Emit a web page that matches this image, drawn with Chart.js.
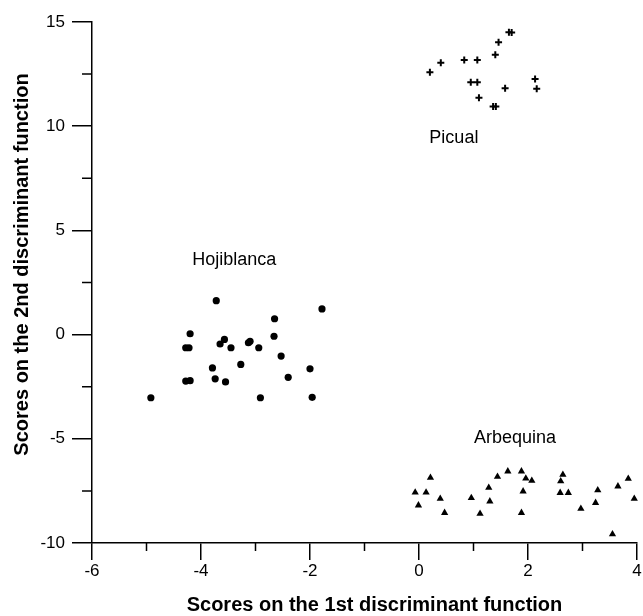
<!DOCTYPE html>
<html>
<head>
<meta charset="utf-8">
<script src="https://cdn.jsdelivr.net/npm/chart.js@4"></script>
<style>
  body { margin: 0; background: #fff; }
</style>
</head>
<body>
<canvas id="chart" width="643" height="616"></canvas>
<script>
// scores, one x/y pair of arrays per cultivar
const picualX = [0.20, 0.40, 0.83, 1.07, 1.40, 1.46, 1.65, 1.70, 0.95, 1.07, 1.10, 1.58, 1.36, 1.41, 2.13, 2.16];
const picualY = [12.59, 13.05, 13.18, 13.18, 13.43, 14.03, 14.51, 14.50, 12.11, 12.11, 11.37, 11.82, 10.94, 10.94, 12.26, 11.80];

const hojiblancaX = [-3.72, -1.78, -2.65, -4.20, -4.28, -4.22, -3.57, -3.65, -3.45, -3.13, -3.10, -2.94, -2.66, -2.53, -3.27, -3.79, -2.00, -4.28, -4.20, -3.74, -3.55, -2.40, -4.92, -2.91, -1.96];
const hojiblancaY = [1.63, 1.23, 0.76, 0.04, -0.63, -0.63, -0.23, -0.45, -0.63, -0.39, -0.32, -0.63, -0.08, -1.03, -1.43, -1.60, -1.64, -2.23, -2.21, -2.12, -2.27, -2.05, -3.03, -3.03, -3.01];

const arbequinaX = [-0.07, -0.01, 0.13, 0.21, 0.39, 0.47, 0.96, 1.12, 1.28, 1.30, 1.44, 1.63, 1.88, 1.96, 2.07, 1.91, 1.88, 2.64, 2.60, 2.59, 2.74, 2.97, 3.24, 3.28, 3.55, 3.65, 3.84, 3.95];
const arbequinaY = [-7.57, -8.19, -7.57, -6.87, -7.87, -8.55, -7.84, -8.59, -7.35, -8.00, -6.82, -6.56, -6.56, -6.90, -7.01, -7.52, -8.55, -6.72, -7.03, -7.59, -7.59, -8.35, -8.07, -7.47, -9.58, -7.28, -6.91, -7.87];

const groupNames = ["Picual", "Hojiblanca", "Arbequina"];
const groupLabelX = [0.64, -3.39, 1.76];
const groupLabelY = [9.43, 3.58, -4.96];

const xTicks = [-6, -4, -2, 0, 2, 4];
const xMinorTicks = [-5, -3, -1, 1, 3];
const yTicks = [-10, -5, 0, 5, 10, 15];
const yMinorTicks = [-7.5, -2.5, 2.5, 7.5, 12.5];

const xTitle = "Scores on the 1st discriminant function";
const yTitle = "Scores on the 2nd discriminant function";

function toPoints(xs, ys) {
  return xs.map((x, i) => ({ x: x, y: ys[i] }));
}

// short ticks between the labelled ones
const minorTicks = {
  id: "minorTicks",
  afterDraw(chart) {
    const ctx = chart.ctx;
    const xs = chart.scales.x, ys = chart.scales.y;
    const area = chart.chartArea;
    ctx.save();
    ctx.strokeStyle = "#000";
    ctx.lineWidth = 1.5;
    ctx.beginPath();
    xMinorTicks.forEach(v => {
      const px = xs.getPixelForValue(v);
      ctx.moveTo(px, area.bottom);
      ctx.lineTo(px, area.bottom + 8);
    });
    yMinorTicks.forEach(v => {
      const py = ys.getPixelForValue(v);
      ctx.moveTo(area.left, py);
      ctx.lineTo(area.left - 10, py);
    });
    ctx.stroke();
    ctx.restore();
  }
};

// cluster names placed at data coordinates, axis titles
const textLabels = {
  id: "textLabels",
  afterDraw(chart) {
    const ctx = chart.ctx;
    const xs = chart.scales.x, ys = chart.scales.y;
    const area = chart.chartArea;
    ctx.save();
    ctx.fillStyle = "#000";
    ctx.textAlign = "center";
    ctx.textBaseline = "middle";
    ctx.font = "18px 'Liberation Sans', Arial, sans-serif";
    groupNames.forEach((name, i) => {
      ctx.fillText(name, xs.getPixelForValue(groupLabelX[i]), ys.getPixelForValue(groupLabelY[i]));
    });

    ctx.font = "bold 20px 'Liberation Sans', Arial, sans-serif";
    ctx.fillText(xTitle, (area.left + area.right) / 2 + 10, 605);
    ctx.translate(22, (area.top + area.bottom) / 2 - 18);
    ctx.rotate(-Math.PI / 2);
    ctx.fillText(yTitle, 0, 0);
    ctx.restore();
  }
};

const tickFont = { family: "'Liberation Sans', Arial, sans-serif", size: 17 };

new Chart(document.getElementById("chart"), {
  type: "scatter",
  data: {
    datasets: [
      {
        label: "Picual",
        data: toPoints(picualX, picualY),
        pointStyle: "cross",
        pointRadius: 3.5,
        borderWidth: 2,
        borderColor: "#000",
        backgroundColor: "#000"
      },
      {
        label: "Hojiblanca",
        data: toPoints(hojiblancaX, hojiblancaY),
        pointStyle: "circle",
        pointRadius: 3.6,
        borderWidth: 0,
        borderColor: "#000",
        backgroundColor: "#000"
      },
      {
        label: "Arbequina",
        data: toPoints(arbequinaX, arbequinaY),
        pointStyle: "triangle",
        pointRadius: 4.2,
        borderWidth: 0,
        borderColor: "#000",
        backgroundColor: "#000"
      }
    ]
  },
  options: {
    responsive: false,
    animation: false,
    clip: false,
    layout: { padding: { top: 22, right: 6, left: 0, bottom: 0 } },
    plugins: {
      legend: { display: false },
      tooltip: { enabled: false }
    },
    scales: {
      x: {
        type: "linear",
        min: -6,
        max: 4,
        afterFit(scale) { scale.height = 73; },
        afterBuildTicks(scale) { scale.ticks = xTicks.map(v => ({ value: v })); },
        border: { display: true, color: "#000", width: 1.5 },
        grid: { display: true, drawOnChartArea: false, drawTicks: true, tickLength: 17, color: "#000", lineWidth: 1.5 },
        ticks: { color: "#000", font: tickFont, padding: 1, maxRotation: 0 }
      },
      y: {
        type: "linear",
        min: -10,
        max: 15,
        afterFit(scale) { scale.width = 92; },
        afterBuildTicks(scale) { scale.ticks = yTicks.map(v => ({ value: v })); },
        border: { display: true, color: "#000", width: 1.5 },
        grid: { display: true, drawOnChartArea: false, drawTicks: true, tickLength: 20, color: "#000", lineWidth: 1.5 },
        ticks: { color: "#000", font: tickFont, padding: 7 }
      }
    }
  },
  plugins: [minorTicks, textLabels]
});
</script>
</body>
</html>
